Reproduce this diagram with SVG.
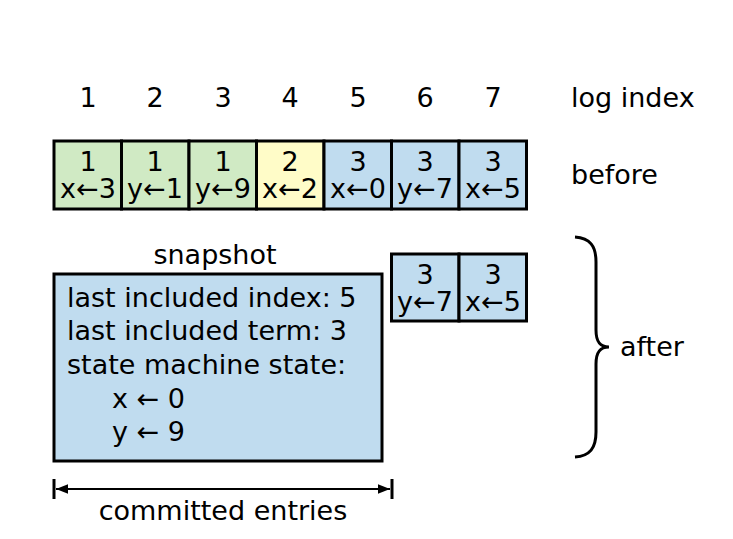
<svg xmlns="http://www.w3.org/2000/svg" width="733" height="539" viewBox="0 0 733 539">
<style>
text{font-family:"DejaVu Sans","Liberation Sans",sans-serif;font-size:27px;fill:#000}
.c{text-anchor:middle}
.cell{stroke:#000;stroke-width:3}
.g{fill:#d0eac4}.y{fill:#fffcc8}.b{fill:#c0dcef}
</style>
<defs>
<marker id="ah" viewBox="0 0 10 10" refX="10" refY="5" markerWidth="6" markerHeight="6" orient="auto-start-reverse" markerUnits="strokeWidth"><path d="M0,1 L10,5 L0,9 z" fill="#000"/></marker>
</defs>
<rect width="733" height="539" fill="#fff"/>
<g id="indices">
<text class="c" x="88" y="107">1</text><text class="c" x="155" y="107">2</text><text class="c" x="223" y="107">3</text><text class="c" x="290" y="107">4</text><text class="c" x="358" y="107">5</text><text class="c" x="425" y="107">6</text><text class="c" x="493" y="107">7</text>
<text x="571" y="107">log index</text>
</g>
<g id="before-log">
<rect class="cell g" x="54" y="141" width="67.5" height="68"/>
<rect class="cell g" x="121.5" y="141" width="67.5" height="68"/>
<rect class="cell g" x="189" y="141" width="67.5" height="68"/>
<rect class="cell y" x="256.5" y="141" width="67.5" height="68"/>
<rect class="cell b" x="324" y="141" width="67.5" height="68"/>
<rect class="cell b" x="391.5" y="141" width="67.5" height="68"/>
<rect class="cell b" x="459" y="141" width="67.5" height="68"/>
<text class="c" x="88" y="171">1</text><text class="c" x="88" y="198">x←3</text>
<text class="c" x="155" y="171">1</text><text class="c" x="155" y="198">y←1</text>
<text class="c" x="223" y="171">1</text><text class="c" x="223" y="198">y←9</text>
<text class="c" x="290" y="171">2</text><text class="c" x="290" y="198">x←2</text>
<text class="c" x="358" y="171">3</text><text class="c" x="358" y="198">x←0</text>
<text class="c" x="425" y="171">3</text><text class="c" x="425" y="198">y←7</text>
<text class="c" x="493" y="171">3</text><text class="c" x="493" y="198">x←5</text>
<text x="571" y="184">before</text>
</g>
<g id="snapshot">
<text class="c" x="215" y="264">snapshot</text>
<rect class="cell b" x="54" y="274" width="328" height="187"/>
<text x="67" y="307">last included index: 5</text>
<text x="67" y="340">last included term: 3</text>
<text x="67" y="374">state machine state:</text>
<text x="112" y="408">x ← 0</text>
<text x="112" y="441">y ← 9</text>
</g>
<g id="after-log">
<rect class="cell b" x="391.5" y="254" width="67.5" height="67"/>
<rect class="cell b" x="459" y="254" width="67.5" height="67"/>
<text class="c" x="425" y="284">3</text><text class="c" x="425" y="311">y←7</text>
<text class="c" x="493" y="284">3</text><text class="c" x="493" y="311">x←5</text>
</g>
<g id="after-label">
<path d="M575,237 C590,238 596,246 596,262 L596,330 C596,342 600,347 609,347 C600,347 596,352 596,364 L596,432 C596,448 590,456 575,457" fill="none" stroke="#000" stroke-width="3"/>
<text x="620" y="356">after</text>
</g>
<g id="connectors">
<line x1="56" y1="489" x2="390" y2="489" stroke="#000" stroke-width="2" marker-start="url(#ah)" marker-end="url(#ah)"/>
<line x1="54" y1="479" x2="54" y2="499" stroke="#000" stroke-width="3"/>
<line x1="392" y1="479" x2="392" y2="499" stroke="#000" stroke-width="3"/>
<text class="c" x="223" y="520">committed entries</text>
</g>
</svg>
